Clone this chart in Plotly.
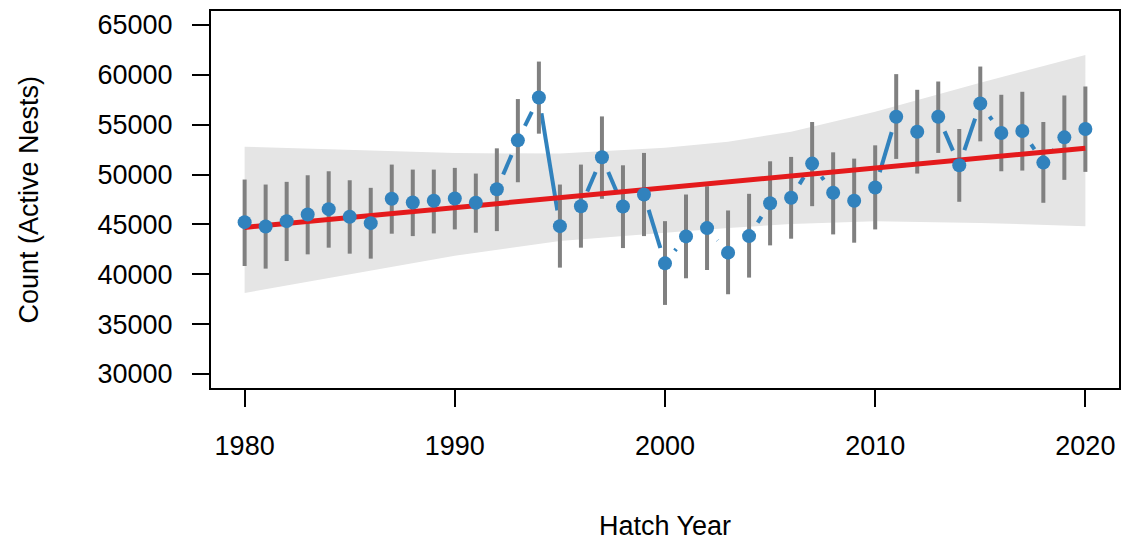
import numpy as np
import plotly.graph_objects as go

# Annual counts of active nests with interval bounds
years = list(range(1980, 2021))
count = [45230, 44800, 45330, 46000, 46530, 45770, 45130, 47570, 47200, 47370,
         47600, 47170, 48530, 53430, 57730, 44830, 46830, 51730, 46800, 48000,
         41100, 43800, 44630, 42170, 43830, 47130, 47670, 51100, 48170, 47370,
         48700, 55800, 54300, 55800, 50930, 57130, 54170, 54370, 51200, 53730,
         54570]
upper = [49500, 49000, 49270, 49930, 50330, 49430, 48670, 51000, 50500, 50500,
         50670, 50100, 52630, 57570, 61330, 49000, 51000, 55830, 50930, 52170,
         45330, 48000, 48830, 46400, 48070, 51330, 51770, 55270, 52230, 51600,
         52930, 60070, 58500, 59330, 54570, 60830, 58000, 58300, 55270, 57930,
         58830]
lower = [40830, 40570, 41330, 42000, 42670, 42070, 41570, 44070, 43830, 44100,
         44500, 44170, 44330, 49230, 54100, 40670, 42670, 47570, 42630, 43830,
         36930, 39600, 40430, 38000, 39670, 42900, 43570, 46830, 44000, 43170,
         44500, 51570, 50100, 52170, 47270, 53330, 50330, 50400, 47170, 49470,
         50270]

# Trend line and its uncertainty band
trend_years = [1980, 2020]
trend_vals = [44700, 52650]
band_years = [1980, 1985, 1990, 1995, 2000, 2003, 2006, 2010, 2015, 2020]
band_hi = [52800, 52450, 52150, 52100, 52700, 53300, 54300, 56300, 59200, 62000]
band_lo = [38130, 40000, 41870, 43330, 44170, 44650, 45050, 45330, 45150, 44830]

xr = [1978.4, 2021.6]
yr = [28600, 66400]
ml, mr, mt, mb = 211, 4, 11, 156
W, H = 1123, 544
sx = (W - ml - mr) / (xr[1] - xr[0])
sy = (H - mt - mb) / (yr[1] - yr[0])

# connecting line with gaps around the points (like type="b")
gap = 16
lx, ly = [], []
for i in range(len(years) - 1):
    x0, y0, x1, y1 = years[i], count[i], years[i + 1], count[i + 1]
    L = np.hypot((x1 - x0) * sx, (y1 - y0) * sy)
    if L <= 2 * gap:
        continue
    f = gap / L
    lx += [x0 + f * (x1 - x0), x1 - f * (x1 - x0), None]
    ly += [y0 + f * (y1 - y0), y1 - f * (y1 - y0), None]

blue = "#3182bd"
fig = go.Figure()
fig.add_trace(go.Scatter(
    x=band_years + band_years[::-1], y=band_hi + band_lo[::-1],
    fill="toself", fillcolor="#e5e5e5", line=dict(width=0),
    mode="lines", hoverinfo="skip"))
fig.add_trace(go.Scatter(x=lx, y=ly, mode="lines",
                         line=dict(color=blue, width=4)))
fig.add_trace(go.Scatter(
    x=years, y=count, mode="markers", marker=dict(size=1, opacity=0),
    error_y=dict(type="data", symmetric=False,
                 array=[u - c for u, c in zip(upper, count)],
                 arrayminus=[c - l for c, l in zip(count, lower)],
                 color="#808080", thickness=4, width=0)))
fig.add_trace(go.Scatter(x=trend_years, y=trend_vals, mode="lines",
                         line=dict(color="#e41a1c", width=5)))
fig.add_trace(go.Scatter(x=years, y=count, mode="markers",
                         marker=dict(color=blue, size=14)))

font = dict(family="Liberation Sans, Arial, Helvetica", size=27, color="black")
fig.update_layout(
    width=W, height=H, showlegend=False,
    plot_bgcolor="white", paper_bgcolor="white",
    margin=dict(l=ml, r=mr, t=mt, b=mb),
    font=font,
    xaxis=dict(range=xr, tickvals=[1980, 1990, 2000, 2010, 2020],
               showgrid=False, zeroline=False, showline=True, mirror=True,
               linecolor="black", linewidth=2, ticks="outside", ticklen=17,
               tickwidth=2, tickcolor="black", ticklabelstandoff=16,
               automargin=False),
    yaxis=dict(range=yr, tickvals=list(range(30000, 65001, 5000)),
               tickformat="d", showgrid=False, zeroline=False, showline=True,
               mirror=True, linecolor="black", linewidth=2, ticks="outside",
               ticklen=17, tickwidth=2, tickcolor="black",
               ticklabelstandoff=14, automargin=False),
    annotations=[
        dict(text="Count (Active Nests)", xref="paper", yref="paper",
             x=0, y=0.5, xanchor="center", yanchor="middle",
             xshift=28 - ml, textangle=-90, showarrow=False, font=font),
        dict(text="Hatch Year", xref="paper", yref="paper", x=0.5, y=0,
             xanchor="center", yanchor="middle", yshift=-138,
             showarrow=False, font=font),
    ],
)

# drop the default page margin so the figure sits at the window's corner
fig.write_html("out.html", config={"displayModeBar": False},
               post_script="document.body.style.margin='0';"
                           "document.body.style.overflow='hidden';")
